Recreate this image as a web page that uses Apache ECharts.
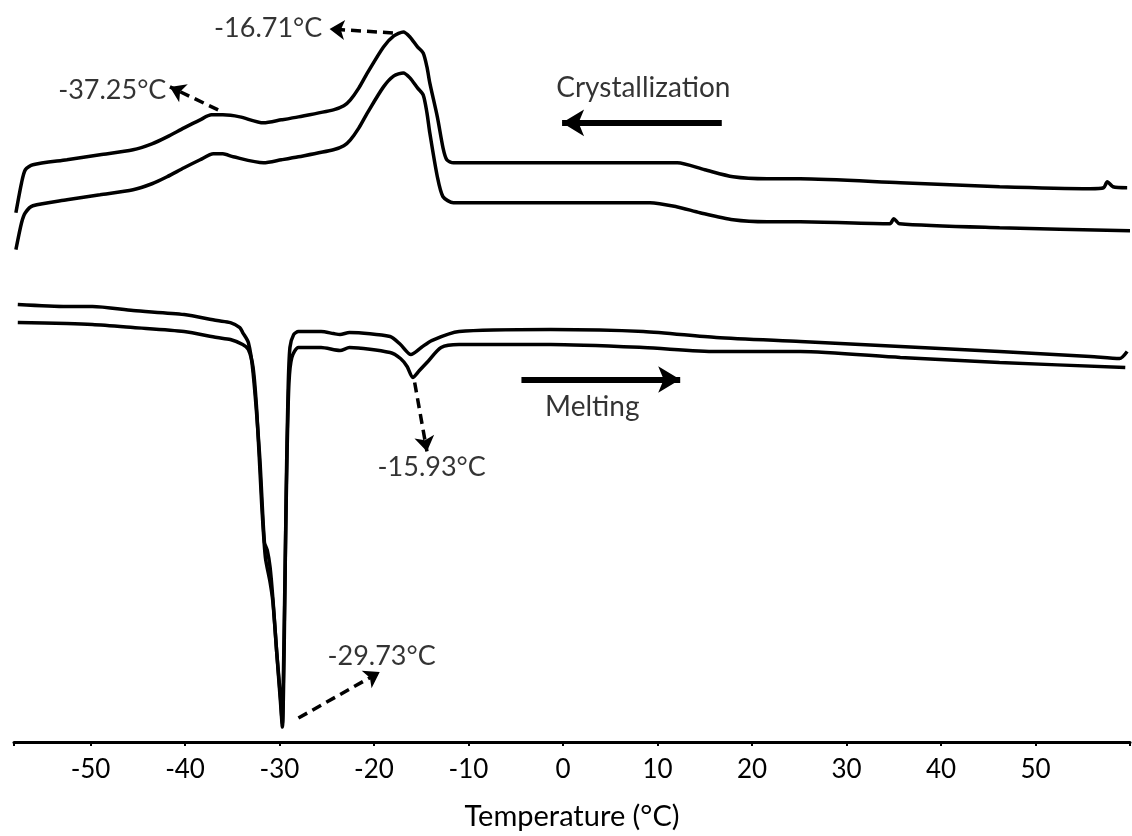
<!DOCTYPE html>
<html><head><meta charset="utf-8">
<script src="https://cdn.jsdelivr.net/npm/echarts@6/dist/echarts.min.js"></script>
<style>html,body{margin:0;padding:0;background:#fff}#c{width:1132px;height:836px}</style>
</head><body><div id="c"></div>
<script>
// Temperature (°C) vs heat flow (arbitrary units, curves offset)
const xMin = -58.1, xMax = 60;
const tickValues = [-58.1, -50, -40, -30, -20, -10, 0, 10, 20, 30, 40, 50, 60];
const labelValues = [-50, -40, -30, -20, -10, 0, 10, 20, 30, 40, 50];

// Crystallization (cooling) run 1 – upper trace
const cooling1 = [[-57.9,530],[-57.3,560],[-56.9,573],[-56.1,578],[-52.5,583],[-49,588],[-45.5,593],[-43.5,599],
  [-41.9,606],[-40.1,615],[-38.4,623],[-37.2,628],[-36.0,628],[-34.2,626],[-31.7,620],[-29.8,623],[-28.0,626],
  [-24.3,633],[-23.2,637],[-22.5,643],[-21.6,655],[-20.7,670],[-19.0,696],[-17.9,707],[-16.9,711],[-16.2,706],
  [-15.4,696],[-14.8,690],[-14.4,676],[-14.1,660],[-13.3,626],[-12.7,595],[-12.3,583],[-11.6,580],[-5,580],
  [5,580],[12.1,580],[15,573],[18.0,566],[21.6,564],[25.1,564],[35.7,560],[46.2,556],[55.8,554],[57.2,555],
  [57.6,561],[58.2,556],[59.7,555]];
// Crystallization (cooling) run 2 – lower trace
const cooling2 = [[-57.9,493],[-57.3,520],[-56.9,530],[-56.1,537],[-52.5,543],[-49,548],[-45.5,553],[-43.5,559],
  [-41.9,566],[-40.1,575],[-38.4,583],[-37.0,589],[-36.0,589],[-34.9,586],[-31.7,580],[-29.8,583],[-28.0,586],
  [-24.3,593],[-23.2,597],[-22.5,603],[-21.6,615],[-20.7,630],[-19.0,656],[-17.9,667],[-16.9,670],[-16.2,665],
  [-15.4,655],[-14.8,648],[-14.4,630],[-14.1,610],[-13.3,566],[-12.7,546],[-11.6,540],[-5,540],[0,540],
  [9.2,540],[12,536],[14.5,530],[18.0,523],[21.6,521],[25.1,521],[34.6,519],[35.0,524],[35.6,519],
  [46.2,515],[60,512]];
// Melting (heating) run 1 – upper trace
const heating1 = [[-57.7,438],[-52.5,436],[-49.8,436],[-45.5,432],[-40.1,428],[-36.6,422],[-35.2,420],
  [-34.2,415],[-33.9,410],[-33.3,400],[-32.8,370],[-32.1,286],[-31.6,200],[-31.3,192],[-31.0,175],
  [-30.7,143],[-30.3,90],[-29.9,40],[-29.7,15],[-29.5,100],[-29.3,250],[-29.1,350],[-28.9,395],[-28.5,408],
  [-28.0,411],[-25.6,411],[-24.3,409],[-23.6,408],[-22.6,410],[-18.3,406],[-17.2,398],[-16.1,388],
  [-15.0,395],[-13.9,402],[-11.0,411],[-1.3,413],[8.5,411],[16.2,405],[25.1,401],[35.7,396],[46.2,391],
  [55.8,386],[58.9,384],[59.7,391]];
// Melting (heating) run 2 – lower trace
const heating2 = [[-57.7,420],[-52.5,419],[-49.8,418],[-45.5,415],[-40.1,411],[-36.6,405],[-35.2,403],
  [-33.9,398],[-33.3,393],[-32.8,375],[-32.4,330],[-31.9,240],[-31.5,185],[-31.0,160],[-30.7,140],
  [-30.3,90],[-29.9,45],[-29.7,18],[-29.6,60],[-29.4,180],[-29.2,290],[-29.0,360],[-28.7,385],[-28.0,395],
  [-25.6,395],[-23.6,392],[-22.6,395],[-18.3,390],[-17.2,384],[-16.5,376],[-15.9,365],[-15.2,372],
  [-14.4,380],[-12.9,395],[-11.0,398],[-1.3,398],[8.5,395],[16.2,391],[25.1,391],[35.7,385],[46.2,380],
  [59.5,375]];

// Annotation texts [x, y, text, fontSize]
const noteTexts = [[-31.2,715,'-16.71°C',27],[-47.7,653,'-37.25°C',27],[8.5,655,'Crystallization',28],
  [3.1,335,'Melting',28],[-13.9,275,'-15.93°C',27],[-19.2,86,'-29.73°C',27]];
// Solid direction arrows [x1,y1,x2,y2]
const solidArrows = [[16.8,620,-0.1,620],[-4.4,363,12.4,363]];
// Dashed pointer arrows [x1,y1,x2,y2]
const dashedArrows = [[-18.0,710,-24.7,714],[-36.5,633,-41.6,656],[-15.7,360,-14.4,291],[-28.0,24,-19.4,70]];

const FONT = 'Lato, "Open Sans", sans-serif';
const curveStyle = {color:'#000', width:3.5};
function curve(name, data){
  return {name, type:'line', data, showSymbol:false, smooth:0.25, lineStyle:curveStyle, silent:true, z:3};
}
const arrowLines = solidArrows.map(a => [{coord:[a[0],a[1]], symbol:'none'},
  {coord:[a[2],a[3]], symbol:'arrow', symbolSize:[20,22], lineStyle:{type:'solid', width:6, color:'#000'}}]);
const dashLines = dashedArrows.map(a => [{coord:[a[0],a[1]], symbol:'none'},
  {coord:[a[2],a[3]], symbol:'arrow', symbolSize:[15,15], lineStyle:{type:[10,6], width:3.5, color:'#000'}}]);

const chart = echarts.init(document.getElementById('c'), null, {renderer:'canvas'});
chart.setOption({
  animation:false,
  backgroundColor:'#fff',
  grid:{left:14, right:2, top:3, bottom:93, containLabel:false},
  xAxis:{type:'value', min:xMin, max:xMax,
    name:'Temperature (°C)', nameLocation:'middle', nameGap:60,
    nameTextStyle:{fontFamily:FONT, fontSize:29, color:'#000'},
    axisLine:{lineStyle:{color:'#000', width:3}},
    axisTick:{show:true, customValues:tickValues, length:4, lineStyle:{color:'#000', width:2}},
    axisLabel:{customValues:labelValues, fontFamily:FONT, fontSize:26, color:'#000', margin:15},
    splitLine:{show:false}},
  yAxis:{type:'value', min:0, max:740, show:false, splitLine:{show:false}},
  series:[
    curve('Cooling 1', cooling1), curve('Cooling 2', cooling2),
    curve('Heating 1', heating1), curve('Heating 2', heating2),
    {name:'notes', type:'scatter', symbolSize:0, silent:true, z:5,
      data: noteTexts.map(t => ({value:[t[0],t[1]], name:t[2], label:{fontSize:t[3]}})),
      label:{show:true, position:'inside', formatter:p=>p.name, fontFamily:FONT, color:'#000'},
      markLine:{silent:true, animation:false, symbol:['none','arrow'], label:{show:false},
        data: arrowLines.concat(dashLines)}}
  ]
});
</script></body></html>
